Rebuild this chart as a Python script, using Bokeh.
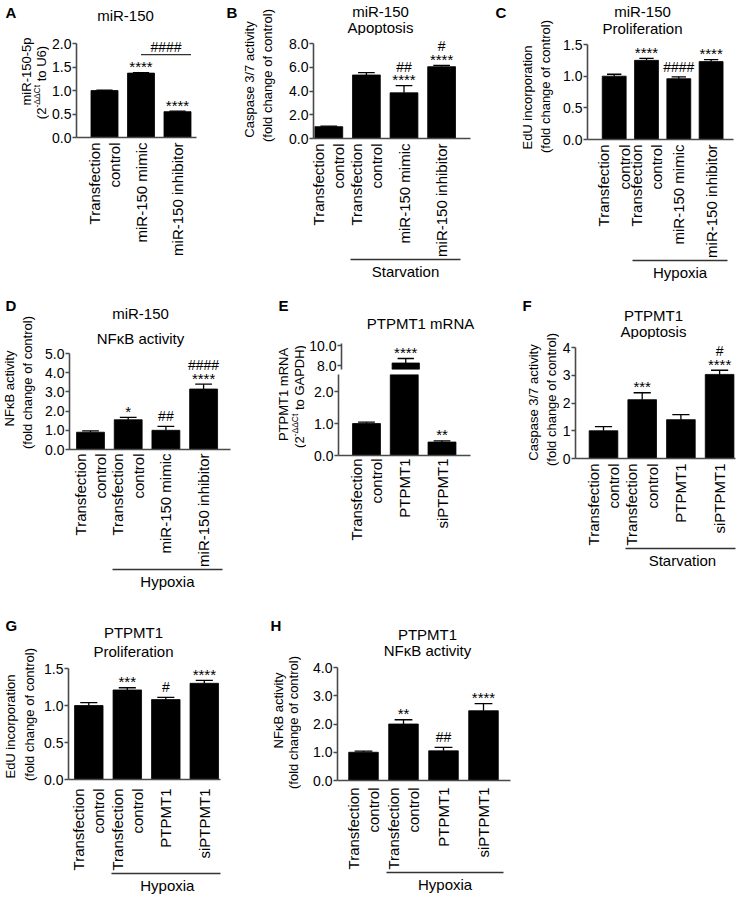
import math
from bokeh.plotting import figure
from bokeh.models import Range1d, FixedTicker, LinearAxis, Label, LabelSet, ColumnDataSource
from bokeh.core.properties import value
from bokeh.layouts import row, column
from bokeh.embed import file_html
from bokeh.resources import INLINE

# ---------------------------------------------------------------- data
TC = "Transfection\ncontrol"

A_labels = [TC, "miR-150 mimic", "miR-150 inhibitor"]
A_values = [1.00, 1.37, 0.55]
A_sem = [0.01, 0.01, 0.01]
A_stars = ["", "****", "****"]
A_hashes = ["", "", ""]
A_yticks = [0.0, 0.5, 1.0, 1.5, 2.0]
A_bracket = (1, 2, "####")

B_labels = [TC, TC, "miR-150 mimic", "miR-150 inhibitor"]
B_values = [1.00, 5.35, 3.85, 6.05]
B_sem = [0.05, 0.20, 0.60, 0.10]
B_stars = ["", "", "****", "****"]
B_hashes = ["", "", "##", "#"]
B_yticks = [0.0, 2.0, 4.0, 6.0, 8.0]

C_labels = [TC, TC, "miR-150 mimic", "miR-150 inhibitor"]
C_values = [1.00, 1.25, 0.96, 1.23]
C_sem = [0.03, 0.03, 0.03, 0.03]
C_stars = ["", "****", "", "****"]
C_hashes = ["", "", "####", ""]
C_yticks = [0.0, 0.5, 1.0, 1.5]

D_labels = [TC, TC, "miR-150 mimic", "miR-150 inhibitor"]
D_values = [0.90, 1.55, 1.00, 3.15]
D_sem = [0.07, 0.12, 0.20, 0.25]
D_stars = ["", "*", "", "****"]
D_hashes = ["", "", "##", "####"]
D_yticks = [0.0, 1.0, 2.0, 3.0, 4.0, 5.0]

E_labels = [TC, "PTPMT1", "siPTPMT1"]
E_values = [1.00, 8.25, 0.42]
E_sem = [0.04, 0.45, 0.04]
E_stars = ["", "****", "**"]
E_hashes = ["", "", ""]
E_yticks_low = [0.0, 1.0, 2.0]
E_yticks_high = [8.0, 10.0]

F_labels = [TC, TC, "PTPMT1", "siPTPMT1"]
F_values = [1.00, 2.12, 1.40, 3.03]
F_sem = [0.15, 0.25, 0.18, 0.15]
F_stars = ["", "***", "", "****"]
F_hashes = ["", "", "", "#"]
F_yticks = [0, 1, 2, 3, 4]

G_labels = [TC, TC, "PTPMT1", "siPTPMT1"]
G_values = [1.00, 1.21, 1.08, 1.30]
G_sem = [0.04, 0.03, 0.03, 0.04]
G_stars = ["", "***", "", "****"]
G_hashes = ["", "", "#", ""]
G_yticks = [0.0, 0.5, 1.0, 1.5]

H_labels = [TC, TC, "PTPMT1", "siPTPMT1"]
H_values = [1.00, 2.00, 1.05, 2.47]
H_sem = [0.04, 0.15, 0.12, 0.25]
H_stars = ["", "**", "", "****"]
H_hashes = ["", "", "##", ""]
H_yticks = [0.0, 1.0, 2.0, 3.0, 4.0]

FOLD = "(fold change of control)"
SUP = "-\u0394\u0394Ct"
NFKB = "NF\u03baB activity"

# ---------------------------------------------------------------- style
FONT = "Liberation Sans"
AX = "#4a4a4a"
XTICK_FS = "15px"
YTICK_FS = "14px"
TITLE_FS = 15
YLAB_FS = 13
BAR_W = 0.74

CW = {"(": 333, ")": 333, "2": 556, "-": 333, "\u0394": 668, "C": 722, "t": 278,
      " ": 278, "o": 556, "U": 722, "6": 556, "G": 778, "A": 667, "P": 667,
      "D": 722, "H": 722}


def tw(t, fs):
    return sum(CW.get(ch, 556) for ch in t) * fs / 1000.0


def no_align(p):
    try:
        p.frame_align = False
    except Exception:
        pass


# ---------------------------------------------------------------- text strips
def strip(x0, y0, x1, y1):
    p = figure(width=x1 - x0, height=y1 - y0, x_range=Range1d(x0, x1),
               y_range=Range1d(y1, y0), min_border=0, x_axis_location=None,
               y_axis_location=None, output_backend="svg", toolbar_location=None)
    no_align(p)
    p.grid.visible = False
    p.outline_line_color = None
    p.background_fill_color = "white"
    p.border_fill_color = "white"
    return p


def txt(p, text, x, y, fs, angle=0.0, align="center", bold=False):
    p.add_layout(Label(x=x, y=y, text=text, angle=angle, text_font=FONT,
                       text_font_size=f"{fs}px", text_align=align,
                       text_baseline="middle", text_color="black",
                       text_font_style="bold" if bold else "normal"))


def vtext(p, line, cx, cy):
    if isinstance(line, str):
        txt(p, line, cx, cy, YLAB_FS, angle=math.pi / 2)
        return
    total = sum(tw(t, fs) for t, fs, r in line)
    y = cy + total / 2
    for t, fs, r in line:
        while t.startswith(" "):
            y -= tw(" ", fs)
            t = t[1:]
        txt(p, t, cx - r, y, fs, angle=math.pi / 2, align="left")
        y -= tw(t, fs)


# ---------------------------------------------------------------- plot parts
def main_fig(x0, x1, top, bot, L, R, ftop, fbot, c0, s, y_at_fbot, ppu, x_axis=True):
    p = figure(width=x1 - x0, height=bot - top,
               x_range=Range1d((L - c0) / s, (R - c0) / s),
               y_range=Range1d(y_at_fbot, y_at_fbot + (fbot - ftop) / ppu),
               min_border_left=L - x0, min_border_right=x1 - R,
               min_border_top=ftop - top, min_border_bottom=bot - fbot,
               x_axis_location="below" if x_axis else None,
               output_backend="svg", toolbar_location=None)
    no_align(p)
    p.grid.visible = False
    p.outline_line_color = None
    p.background_fill_color = "white"
    p.border_fill_color = "white"
    return p


def style_y(p, ticks, labels, bounds):
    ya = p.yaxis[0]
    ya.ticker = FixedTicker(ticks=ticks)
    ya.major_label_overrides = dict(zip(ticks, labels))
    if bounds is not None:
        ya.bounds = bounds
    ya.major_tick_out = 4
    ya.major_tick_in = 0
    ya.major_tick_line_color = AX
    ya.major_tick_line_width = 1.4
    ya.minor_tick_line_color = None
    ya.major_label_standoff = 1
    ya.major_label_text_font = FONT
    ya.major_label_text_font_size = YTICK_FS
    ya.major_label_text_color = "black"
    ya.axis_line_color = AX
    ya.axis_line_width = 1.6


def style_x(p, labels, stand, group):
    n = len(labels)
    xa = p.xaxis[0]
    xa.ticker = FixedTicker(ticks=list(range(n)))
    xa.major_label_overrides = {i: c for i, c in enumerate(labels)}
    xa.major_label_orientation = math.pi / 2
    xa.major_tick_line_color = None
    xa.major_tick_out = 0
    xa.major_tick_in = 0
    xa.minor_tick_line_color = None
    xa.major_label_standoff = stand
    xa.major_label_text_font = FONT
    xa.major_label_text_font_size = XTICK_FS
    xa.major_label_text_color = "black"
    xa.axis_line_color = AX
    xa.axis_line_width = 1.6
    if group:
        gl, gr = 1 - 0.42, (n - 1) + 0.5
        gc = (gl + gr) / 2
        ga = LinearAxis(ticker=FixedTicker(ticks=[gc]), bounds=(gl, gr),
                        major_label_overrides={gc: group},
                        major_tick_line_color=None, major_tick_out=0, major_tick_in=0,
                        minor_tick_line_color=None, major_label_standoff=3,
                        major_label_text_font=FONT, major_label_text_font_size=XTICK_FS,
                        major_label_text_color="black",
                        axis_line_color="#333333", axis_line_width=1.3)
        p.add_layout(ga, "below")


def draw_bars(p, vals, sems, keep=None):
    idx = [i for i in range(len(vals)) if keep is None or keep(vals[i] + sems[i])]
    v = [vals[i] for i in idx]
    tops = [vals[i] + sems[i] for i in idx]
    cw = BAR_W * 0.3
    p.vbar(x=idx, top=v, bottom=0, width=BAR_W, fill_color="black",
           line_color="black", line_width=0.8)
    p.segment(x0=idx, y0=v, x1=idx, y1=tops, line_color="black", line_width=1.3)
    p.segment(x0=[x - cw for x in idx], y0=tops, x1=[x + cw for x in idx], y1=tops,
              line_color="black", line_width=1.3)


def annotate(p, vals, sems, stars, hashes, ppu, keep=None):
    sx, sy, st, hx, hy, ht = [], [], [], [], [], []
    for i, (v, e, s_, h_) in enumerate(zip(vals, sems, stars, hashes)):
        top = v + e
        if keep is not None and not keep(top):
            continue
        if s_:
            sx.append(i); sy.append(top + 6 / ppu); st.append(s_)
        if h_:
            hx.append(i); hy.append(top + (19 if s_ else 10) / ppu); ht.append(h_)
    for X, Y, T, fs in ((sx, sy, st, "15px"), (hx, hy, ht, "14px")):
        if T:
            src = ColumnDataSource(dict(x=X, y=Y, text=T))
            p.add_layout(LabelSet(x="x", y="y", text="text", source=src,
                                  text_align="center", text_baseline="middle",
                                  text_font=value(FONT), text_font_size=value(fs),
                                  text_color="black"))


def build_panel(g, letter, titles, ylabs, labels, vals, sems, stars, hashes,
                yticks, fmt, group):
    x0, y0, x1, y1 = g["box"]
    sp, mt = g["split"], g["mtop"]
    L, T, R, B = g["frame"]
    ymax = yticks[-1]
    ppu = (B - T) / ymax
    p = main_fig(sp, x1, mt, y1, L, R, mt, B, g["c0"], g["s"], 0.0, ppu)
    draw_bars(p, vals, sems)
    annotate(p, vals, sems, stars, hashes, ppu)
    style_y(p, yticks, [fmt.format(t) for t in yticks], (0, ymax))
    style_x(p, labels, g["xstand"], group)
    left = strip(x0, y0, sp, y1)
    top = strip(sp, y0, x1, mt)
    lx, ly = g["letter"]
    txt(left, letter, lx, ly, 15, align="left", bold=True)
    for ln, (yx, yy) in zip(ylabs, g["ylab"]):
        vtext(left, ln, yx, yy)
    for t, (tx, ty) in zip(titles, g["title"]):
        txt(top, t, tx, ty, TITLE_FS)
    return p, row(left, column(top, p)), ppu


# ---------------------------------------------------------------- geometry (page px)
gA = dict(box=(0, 0, 222, 292), split=49, mtop=35, frame=(76, 43, 196, 137),
          c0=104.0, s=36.5, letter=(5, 12), title=[(125, 15)],
          ylab=[(26, 71), (41, 82)], xstand=5)
gB = dict(box=(222, 0, 490, 292), split=278, mtop=35, frame=(313, 43, 470, 138),
          c0=328.3, s=37.6, letter=(226, 12), title=[(380, 11), (380, 27)],
          ylab=[(249, 79), (266.5, 75)], xstand=5)
gC = dict(box=(490, 0, 746, 292), split=556, mtop=36, frame=(587, 44, 733, 139),
          c0=613.7, s=32.3, letter=(495, 12), title=[(642, 11), (642, 28)],
          ylab=[(527, 97), (545, 86)], xstand=5)
gD = dict(box=(0, 292, 240, 600), split=40, mtop=347, frame=(69, 353, 230, 449),
          c0=90.0, s=37.7, letter=(5, 305), title=[(140, 313), (140, 338)],
          ylab=[(9, 388), (27, 382)], xstand=4)
gF = dict(box=(490, 292, 746, 600), split=559, mtop=339, frame=(575, 347, 735, 458),
          c0=603.0, s=38.7, letter=(522, 305), title=[(653, 315), (653, 331)],
          ylab=[(533, 402), (551, 399)], xstand=5)
gG = dict(box=(0, 600, 240, 898), split=39, mtop=660, frame=(68, 668, 220, 779),
          c0=88.3, s=38.5, letter=(5, 625), title=[(133, 632), (133, 651)],
          ylab=[(10, 726), (29, 714)], xstand=9)
gH = dict(box=(240, 600, 746, 898), split=301, mtop=659, frame=(337, 667, 510, 780),
          c0=363.0, s=40.0, letter=(270, 625), title=[(427, 634), (427, 650)],
          ylab=[(278, 710), (293, 722)], xstand=7)

pA, lA, ppuA = build_panel(gA, "A", ["miR-150"],
                           ["miR-150-5p", [("(2", YLAB_FS, 0), (SUP, 8.5, 4.5),
                                           (" to U6)", YLAB_FS, 0)]],
                           A_labels, A_values, A_sem, A_stars, A_hashes, A_yticks,
                           "{:.1f}", None)
i0, i1, btxt = A_bracket
by = max(A_values[i0] + A_sem[i0], A_values[i1] + A_sem[i1]) + 18 / ppuA
bx1 = i1 + BAR_W / 2
pA.segment(x0=[i0], y0=[by], x1=[bx1], y1=[by], line_color="#333333", line_width=1.3)
pA.add_layout(Label(x=(i0 + bx1) / 2, y=by + 8 / ppuA, text=btxt, text_font=FONT,
                    text_font_size="14px", text_align="center", text_baseline="middle",
                    text_color="black"))

pB, lB, _ = build_panel(gB, "B", ["miR-150", "Apoptosis"], ["Caspase 3/7 activity", FOLD],
                        B_labels, B_values, B_sem, B_stars, B_hashes, B_yticks,
                        "{:.1f}", "Starvation")
pC, lC, _ = build_panel(gC, "C", ["miR-150", "Proliferation"], ["EdU incorporation", FOLD],
                        C_labels, C_values, C_sem, C_stars, C_hashes, C_yticks,
                        "{:.1f}", "Hypoxia")
pD, lD, _ = build_panel(gD, "D", ["miR-150", NFKB], [NFKB, FOLD],
                        D_labels, D_values, D_sem, D_stars, D_hashes, D_yticks,
                        "{:.1f}", "Hypoxia")
pF, lF, _ = build_panel(gF, "F", ["PTPMT1", "Apoptosis"], ["Caspase 3/7 activity", FOLD],
                        F_labels, F_values, F_sem, F_stars, F_hashes, F_yticks,
                        "{:.0f}", "Starvation")
pG, lG, _ = build_panel(gG, "G", ["PTPMT1", "Proliferation"], ["EdU incorporation", FOLD],
                        G_labels, G_values, G_sem, G_stars, G_hashes, G_yticks,
                        "{:.1f}", "Hypoxia")
pH, lH, _ = build_panel(gH, "H", ["PTPMT1", NFKB], [NFKB, FOLD],
                        H_labels, H_values, H_sem, H_stars, H_hashes, H_yticks,
                        "{:.1f}", "Hypoxia")

# ---- panel E: broken y axis, drawn as an upper and a lower piece
EX0, EY0, EX1, EY1 = 240, 292, 490, 600
E_SPLIT, E_L, E_R, E_C0, E_S = 306, 338, 470, 366.0, 37.75
UP_TOP, UP_FBOT, UP_BOT, UP_PPU, UP_PX8, UP_AXTOP = 335, 369, 373, 10.0, 365.0, 343
LO_FTOP, LO_FBOT, LO_PPU = 374, 455, 32.0
up_y0 = 8.0 - (UP_FBOT - UP_PX8) / UP_PPU
lo_top = (LO_FBOT - LO_FTOP) / LO_PPU
pEu = main_fig(E_SPLIT, EX1, UP_TOP, UP_BOT, E_L, E_R, UP_TOP, UP_FBOT, E_C0, E_S,
               up_y0, UP_PPU, x_axis=False)
pEl = main_fig(E_SPLIT, EX1, UP_BOT, EY1, E_L, E_R, LO_FTOP, LO_FBOT, E_C0, E_S,
               0.0, LO_PPU)
draw_bars(pEu, E_values, E_sem, keep=lambda t: t > up_y0)
draw_bars(pEl, E_values, E_sem)
annotate(pEu, E_values, E_sem, E_stars, E_hashes, UP_PPU, keep=lambda t: t > up_y0)
annotate(pEl, E_values, E_sem, E_stars, E_hashes, LO_PPU, keep=lambda t: t < lo_top)
style_y(pEu, E_yticks_high, ["{:.1f}".format(t) for t in E_yticks_high],
        (up_y0, 8.0 + (UP_PX8 - UP_AXTOP) / UP_PPU))
style_y(pEl, E_yticks_low, ["{:.1f}".format(t) for t in E_yticks_low], None)
style_x(pEl, E_labels, 3, None)
leftE = strip(EX0, EY0, E_SPLIT, EY1)
topE = strip(E_SPLIT, EY0, EX1, UP_TOP)
txt(leftE, "E", 278, 305, 15, align="left", bold=True)
vtext(leftE, "PTPMT1 mRNA", 283, 394)
vtext(leftE, [("(2", YLAB_FS, 0), (SUP, 8.5, 4.5), (" to GAPDH)", YLAB_FS, 0)], 299, 396)
txt(topE, "PTPMT1 mRNA", 420, 323, TITLE_FS)
lE = row(leftE, column(topE, pEu, pEl))

layout = column(row(lA, lB, lC), row(lD, lE, lF), row(lG, lH))
open("out.html", "w").write(file_html(layout, INLINE))
